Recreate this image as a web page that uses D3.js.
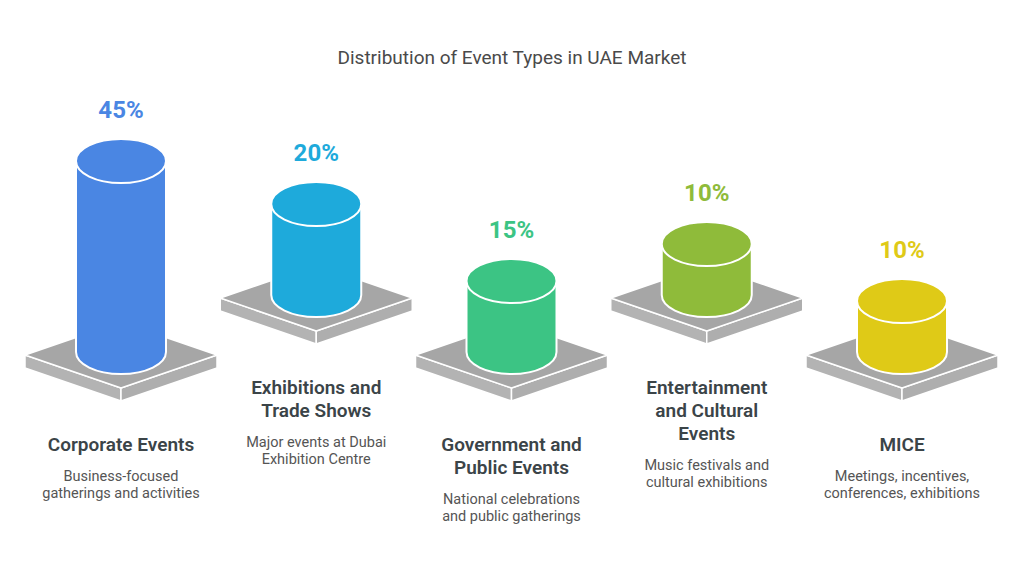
<!DOCTYPE html>
<html>
<head>
<meta charset="utf-8">
<script src="https://cdn.jsdelivr.net/npm/d3@7"></script>
<style>
  html, body { margin: 0; padding: 0; background: #fff; }
  svg { display: block; font-family: Roboto, "Noto Sans", sans-serif; }
</style>
</head>
<body>
<svg id="chart" width="1024" height="571"></svg>
<script>
var chartTitle = 'Distribution of Event Types in UAE Market';
var categories = ['Corporate Events', 'Exhibitions and Trade Shows', 'Government and Public Events',
  'Entertainment and Cultural Events', 'MICE'];
var titleLines = [
  ['Corporate Events'],
  ['Exhibitions and', 'Trade Shows'],
  ['Government and', 'Public Events'],
  ['Entertainment', 'and Cultural', 'Events'],
  ['MICE']
];
var descLines = [
  ['Business-focused', 'gatherings and activities'],
  ['Major events at Dubai', 'Exhibition Centre'],
  ['National celebrations', 'and public gatherings'],
  ['Music festivals and', 'cultural exhibitions'],
  ['Meetings, incentives,', 'conferences, exhibitions']
];
var values = [45, 20, 15, 10, 10];
var colors = ['#4a86e3', '#1eaadb', '#3cc484', '#8fbb3a', '#dfca17'];

var svg = d3.select('#chart');

var x = d3.scalePoint()
  .domain(categories)
  .range([121, 902]);

// cylinder height grows with the value, with a small floor
var h = d3.scaleLinear()
  .domain([0, 45])
  .range([11, 191]);

var rx = 45;
var ry = 22;
var baseW = 96;
var baseH = 33;
var baseDepth = 13;

function rowShift(i) {
  return i % 2 === 1 ? -57 : 0;
}

var items = categories.map(function(c, i) {
  return {
    name: c,
    value: values[i],
    color: colors[i],
    title: titleLines[i],
    desc: descLines[i],
    cx: x(c),
    bottom: 352 + rowShift(i),
    textTop: 444 + rowShift(i)
  };
});

svg.append('text')
  .attr('x', 512)
  .attr('y', 64)
  .attr('text-anchor', 'middle')
  .attr('font-size', 19)
  .attr('fill', '#4a4a4a')
  .text(chartTitle);

var groups = svg.selectAll('.col')
  .data(items)
  .enter()
  .append('g')
  .classed('col', true);

function pts(arr) {
  return arr.map(function(p) { return p.join(','); }).join(' ');
}

// gray base platform
groups.each(function(d) {
  var g = d3.select(this);
  var cx = d.cx;
  var cy = d.bottom + 3;
  g.append('polygon')
    .attr('points', pts([[cx - baseW, cy], [cx, cy + baseH], [cx, cy + baseH + baseDepth], [cx - baseW, cy + baseDepth]]))
    .attr('fill', '#b3b3b3')
    .attr('stroke', '#fff')
    .attr('stroke-width', 1.5)
    .attr('stroke-linejoin', 'round');
  g.append('polygon')
    .attr('points', pts([[cx, cy + baseH], [cx + baseW, cy], [cx + baseW, cy + baseDepth], [cx, cy + baseH + baseDepth]]))
    .attr('fill', '#aeaeae')
    .attr('stroke', '#fff')
    .attr('stroke-width', 1.5)
    .attr('stroke-linejoin', 'round');
  g.append('polygon')
    .attr('points', pts([[cx - baseW, cy], [cx, cy - baseH], [cx + baseW, cy], [cx, cy + baseH]]))
    .attr('fill', '#a6a6a6')
    .attr('stroke', '#fff')
    .attr('stroke-width', 1.5)
    .attr('stroke-linejoin', 'round');
});

// cylinders
groups.append('path')
  .attr('d', function(d) {
    var top = d.bottom - h(d.value);
    return 'M' + (d.cx - rx) + ',' + top +
      'L' + (d.cx - rx) + ',' + d.bottom +
      'A' + rx + ',' + ry + ' 0 0 0 ' + (d.cx + rx) + ',' + d.bottom +
      'L' + (d.cx + rx) + ',' + top + 'Z';
  })
  .attr('fill', function(d) { return d.color; })
  .attr('stroke', '#fff')
  .attr('stroke-width', 2);

groups.append('ellipse')
  .attr('cx', function(d) { return d.cx; })
  .attr('cy', function(d) { return d.bottom - h(d.value); })
  .attr('rx', rx)
  .attr('ry', ry)
  .attr('fill', function(d) { return d.color; })
  .attr('stroke', '#fff')
  .attr('stroke-width', 2);

groups.append('text')
  .attr('x', function(d) { return d.cx; })
  .attr('y', function(d) { return d.bottom - h(d.value) - 52 + 8.5; })
  .attr('text-anchor', 'middle')
  .attr('font-size', 24)
  .attr('font-weight', 700)
  .attr('fill', function(d) { return d.color; })
  .text(function(d) { return d.value + '%'; });

// category titles and descriptions
groups.each(function(d) {
  var g = d3.select(this);
  d.title.forEach(function(line, j) {
    g.append('text')
      .attr('x', d.cx)
      .attr('y', d.textTop + j * 23 + 7)
      .attr('text-anchor', 'middle')
      .attr('font-size', 19)
      .attr('font-weight', 600)
      .attr('fill', '#3b4448')
      .text(line);
  });
  var descTop = d.textTop + (d.title.length - 1) * 23 + 32;
  d.desc.forEach(function(line, j) {
    g.append('text')
      .attr('x', d.cx)
      .attr('y', descTop + j * 17 + 5)
      .attr('text-anchor', 'middle')
      .attr('font-size', 14.5)
      .attr('fill', '#555')
      .text(line);
  });
});
</script>
</body>
</html>
